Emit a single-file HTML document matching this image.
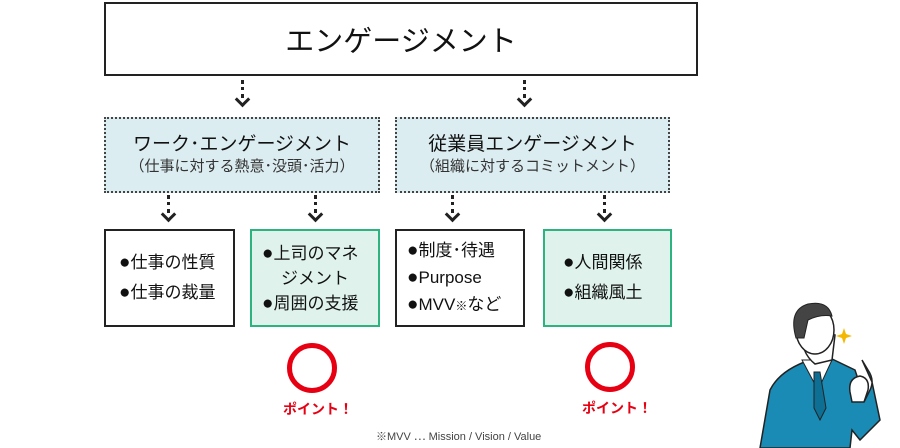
<!DOCTYPE html>
<html><head><meta charset="utf-8"><style>
body{margin:0;width:900px;height:448px;background:#fff;position:relative;overflow:hidden;font-family:"Liberation Sans","Noto Sans CJK JP",sans-serif;color:#222}
.b{position:absolute;box-sizing:border-box}
.top{left:104px;top:2px;width:594px;height:74px;border:2px solid #222;font-size:29px;display:flex;align-items:center;justify-content:center;color:#111}
.mid{top:117px;height:76px;background:#dcedf2;border:2px dotted #444;text-align:center}
.mid .t{font-size:19px;margin-top:14px;line-height:24px;color:#111}
.mid .s{font-size:15px;line-height:20px;color:#333}
.bot{top:229px;height:98px;border:2px solid #222;font-size:17px;line-height:25px;padding-left:10px;display:flex;flex-direction:column;justify-content:center;color:#111}
.bot .d{font-size:19px}
.g{border-color:#2db37f;background:#dff3ec}
.arr{position:absolute;width:2px;border-left:3px dotted #222}
.ah{position:absolute;width:8px;height:8px;border-right:3px solid #222;border-bottom:3px solid #222;transform:rotate(45deg)}
.ring{position:absolute;width:40px;height:40px;border:5px solid #e60012;border-radius:50%}
.pt{position:absolute;color:#e60012;font-weight:bold;font-size:14px}
</style></head><body>
<div class="b top">エンゲージメント</div>

<div class="arr" style="left:241px;top:80px;height:18px"></div><div class="ah" style="left:237px;top:94px"></div>
<div class="arr" style="left:523px;top:80px;height:18px"></div><div class="ah" style="left:519px;top:94px"></div>

<div class="b mid" style="left:104px;width:276px"><div class="t">ワーク･エンゲージメント</div><div class="s">（仕事に対する熱意･没頭･活力）</div></div>
<div class="b mid" style="left:395px;width:275px"><div class="t">従業員エンゲージメント</div><div class="s">（組織に対するコミットメント）</div></div>

<div class="arr" style="left:167px;top:195px;height:18px"></div><div class="ah" style="left:163px;top:209px"></div>
<div class="arr" style="left:314px;top:195px;height:18px"></div><div class="ah" style="left:310px;top:209px"></div>
<div class="arr" style="left:451px;top:195px;height:18px"></div><div class="ah" style="left:447px;top:209px"></div>
<div class="arr" style="left:603px;top:195px;height:18px"></div><div class="ah" style="left:599px;top:209px"></div>

<div class="b bot" style="left:104px;width:131px;line-height:30px;padding-left:13px"><div><span class="d">●</span>仕事の性質</div><div><span class="d">●</span>仕事の裁量</div></div>
<div class="b bot g" style="left:250px;width:130px"><div><span class="d">●</span>上司のマネ</div><div style="padding-left:19px">ジメント</div><div><span class="d">●</span>周囲の支援</div></div>
<div class="b bot" style="left:395px;width:130px;line-height:27px"><div><span class="d">●</span>制度･待遇</div><div><span class="d">●</span>Purpose</div><div><span class="d">●</span>MVV<span style="font-size:12px">※</span>など</div></div>
<div class="b bot g" style="left:543px;width:129px;line-height:30px;padding-left:18px"><div><span class="d">●</span>人間関係</div><div><span class="d">●</span>組織風土</div></div>

<div class="ring" style="left:287px;top:343px"></div>
<div class="pt" style="left:283px;top:399px">ポイント！</div>
<div class="ring" style="left:585px;top:342px"></div>
<div class="pt" style="left:582px;top:398px">ポイント！</div>

<div class="b" style="left:376px;top:428px;font-size:11px;color:#444">※MVV ⋯ Mission / Vision / Value</div>

<svg class="b" style="left:740px;top:290px" width="160" height="158" viewBox="0 0 160 158">
<path d="M20 158 L30 100 Q40 80 70 70 L90 68 L115 80 L125 110 L130 100 Q135 90 128 80 L122 70 L132 92 L140 130 L120 150 L112 140 L110 158 Z" fill="#1a8bb5" stroke="#222" stroke-width="1.5"/>
<path d="M62 70 L78 100 L92 70 Z" fill="#fff" stroke="#222"/>
<path d="M74 82 L80 82 L86 118 L80 130 L74 118 Z" fill="#0e6f94" stroke="#222"/>
<path d="M62 40 Q60 62 75 74 L92 70 L95 45 Z" fill="#fff" stroke="#222" stroke-width="1.5"/>
<ellipse cx="75" cy="40" rx="19" ry="24" fill="#fff" stroke="#222" stroke-width="1.5"/>
<path d="M56 48 Q48 20 68 14 Q88 10 92 26 Q80 24 68 30 L64 48 Z" fill="#444" stroke="#222"/>
<path d="M110 102 Q108 88 120 86 Q130 88 128 100 L124 112 L112 112 Z" fill="#fff" stroke="#222" stroke-width="1.5"/>
<path d="M104 38 L106 44 L112 46 L106 48 L104 54 L102 48 L96 46 L102 44 Z" fill="#f5b800"/>
</svg>
</body></html>
